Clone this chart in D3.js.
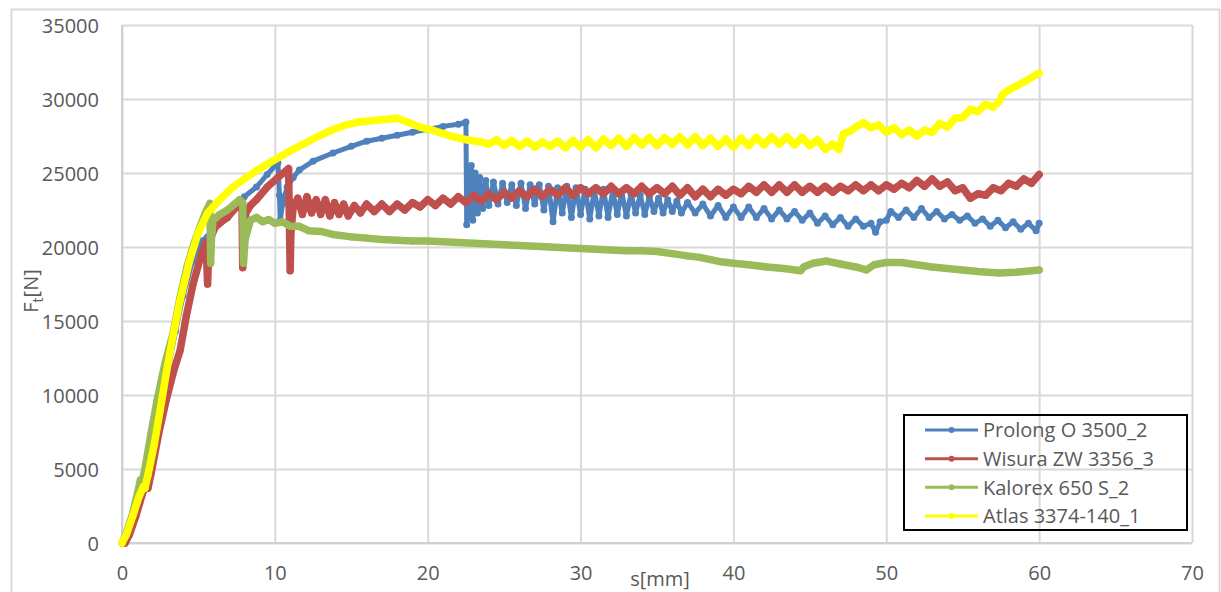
<!DOCTYPE html>
<html>
<head>
<meta charset="utf-8">
<script src="https://cdn.jsdelivr.net/npm/d3@7"></script>
<style>
  body { margin: 0; background: #fff; }
  svg { display: block; }
</style>
</head>
<body>
<div id="chart"></div>
<script>
// tick labels
const xTicks = [0, 10, 20, 30, 40, 50, 60, 70];
const yTicks = [0, 5000, 10000, 15000, 20000, 25000, 30000, 35000];

// series names and colours
const seriesNames = ["Prolong O 3500_2", "Wisura ZW 3356_3", "Kalorex 650 S_2", "Atlas 3374-140_1"];
const seriesColors = ["#4F81BD", "#C0504D", "#9BBB59", "#FFFF00"];

// [s mm, Ft N]
const prolong = [
  [0,0],[0.4,900],[0.8,2200],[1.2,3400],[1.4,3700],[1.6,3700],[1.8,4800],[2.2,6900],[2.6,9200],[3.0,11600],
  [3.5,14300],[4.0,16700],[4.6,19000],[5.2,20400],[5.6,20700],[6.1,21600],[6.7,22200],[7.3,22700],[8.0,23400],
  [8.8,24050],[9.5,24900],[10.2,25700],[10.3,23500],[10.35,21800],[10.5,22900],[10.8,24050],[11.2,24700],
  [11.6,25200],[12.5,25800],[13.8,26350],[15.0,26800],[16.0,27150],[17.0,27350],[18.0,27550],[19.0,27750],
  [20.0,27950],[21.0,28150],[22.0,28300],[22.5,28450],
  [22.55,21500],[22.65,24800],[22.75,22000],[22.85,25500],[22.95,21800],[23.1,25000],[23.25,22300],[23.4,24700],
  [23.6,22600],[23.8,24500],[24.0,22800],[24.3,24400],[24.6,22900],[24.9,24300],[25.2,23000],[25.5,24200],
  [25.8,22800],[26.1,24300],[26.4,22600],[26.7,24200],[27.0,22900],[27.3,24200],[27.6,22500],[27.9,24100],
  [28.2,21700],[28.5,24000],[28.8,22300],[29.1,24100],[29.4,22000],[29.7,24000],[30.0,22200],[30.3,23900],
  [30.6,21900],[30.9,23800],[31.2,22100],[31.5,23900],[31.8,22000],[32.1,23800],[32.4,22200],[32.7,23700],
  [33.0,22100],[33.3,23600],[33.6,22300],[33.9,23500],[34.2,22200],[34.5,23400],[34.8,22400],[35.1,23300],
  [35.4,22300],[35.7,23200],[36.0,22400],[36.3,23100],[36.6,22300],[37.0,23000],[37.5,22300],[38.0,22900],
  [38.5,22100],[39.0,22800],[39.5,22000],[40.0,22700],[40.5,22000],[41.0,22700],[41.5,22000],[42.0,22600],
  [42.5,21900],[43.0,22500],[43.5,21900],[44.0,22400],[44.5,21800],[45.0,22300],[45.5,21600],[46.0,22100],
  [46.5,21500],[47.0,22000],[47.5,21400],[48.0,21900],[48.5,21400],[49.0,21600],[49.3,21000],[49.6,21700],
  [50.0,21800],[50.3,22400],[50.8,22000],[51.3,22500],[51.8,22000],[52.3,22600],[52.8,22000],[53.3,22400],
  [53.8,21900],[54.3,22200],[54.8,21800],[55.3,22100],[55.8,21600],[56.3,21900],[56.8,21400],[57.3,21800],
  [57.8,21300],[58.3,21700],[58.8,21200],[59.3,21600],[59.8,21100],[60.0,21600]
];

const wisura = [
  [0.2,0],[0.5,600],[0.9,1800],[1.3,3200],[1.5,3800],[1.7,3700],[1.9,4700],[2.4,7400],[2.9,9700],[3.4,11700],
  [3.8,13000],[4.2,15300],[4.65,17500],[5.0,18800],[5.3,19800],[5.5,20300],[5.6,17500],[5.65,19000],[5.75,20500],
  [6.1,21350],[6.5,21700],[6.9,22000],[7.3,22500],[7.7,22950],[7.85,23100],[7.9,18600],[7.95,20000],[8.1,22300],
  [8.4,22800],[8.8,23200],[9.5,24050],[10.2,24700],[10.9,25300],[11.0,18400],[11.05,21000],[11.2,22700],
  [11.5,23300],[11.8,22200],[12.1,23400],[12.4,22300],[12.7,23200],[13.0,22200],[13.3,23200],[13.6,22100],
  [13.9,23000],[14.2,22200],[14.5,22900],[14.8,22100],[15.2,22800],[15.6,22300],[16.0,22900],[16.5,22400],
  [17.0,22900],[17.5,22400],[18.0,22900],[18.5,22500],[19.0,23000],[19.5,22700],[20.0,23200],[20.5,22800],
  [21.0,23300],[21.5,22900],[22.0,23400],[22.5,23000],[23.0,23500],[23.5,23100],[24.0,23600],[24.5,23200],
  [25.0,23700],[25.5,23300],[26.0,23800],[26.5,23400],[27.0,23900],[27.5,23400],[28.0,23900],[28.5,23500],
  [29.0,24000],[29.5,23500],[30.0,24000],[30.5,23600],[31.0,24000],[31.5,23600],[32.0,24100],[32.5,23600],
  [33.0,24000],[33.5,23600],[34.0,24100],[34.5,23600],[35.0,24000],[35.5,23600],[36.0,24100],[36.5,23500],
  [37.0,24000],[37.5,23400],[38.0,23900],[38.5,23400],[39.0,23900],[39.5,23500],[40.0,23900],[40.5,23600],
  [41.0,24100],[41.5,23700],[42.0,24200],[42.5,23700],[43.0,24200],[43.5,23700],[44.0,24200],[44.5,23700],
  [45.0,24100],[45.5,23700],[46.0,24100],[46.5,23700],[47.0,24100],[47.5,23800],[48.0,24200],[48.5,23800],
  [49.0,24200],[49.5,23800],[50.0,24200],[50.5,23900],[51.0,24300],[51.5,24000],[52.0,24500],[52.5,24100],
  [53.0,24600],[53.5,24100],[54.0,24400],[54.5,23800],[55.0,24000],[55.5,23300],[56.0,23600],[56.5,23500],
  [57.0,24000],[57.5,23800],[58.0,24300],[58.5,24100],[59.0,24600],[59.5,24300],[60.0,24900]
];

const kalorex = [
  [0,0],[0.3,700],[0.7,2000],[1.0,3300],[1.2,4250],[1.3,4100],[1.5,5000],[1.9,7400],[2.3,9660],[2.8,12100],
  [3.35,14200],[3.8,16600],[4.25,18650],[4.7,20200],[5.1,21350],[5.45,22300],[5.75,22950],[5.8,18900],
  [5.85,20500],[5.95,21800],[6.4,22200],[6.9,22500],[7.3,22850],[7.7,23200],[7.9,23000],[7.95,18900],
  [8.05,20500],[8.4,21800],[8.8,22000],[9.2,21700],[9.6,21850],[10.0,21600],[10.5,21700],[11.0,21400],
  [11.6,21400],[12.2,21100],[13.0,21050],[13.8,20850],[14.9,20700],[16,20600],[17,20500],[18,20450],
  [19,20400],[20,20400],[21,20350],[22,20300],[23,20250],[24,20200],[25,20150],[26,20100],[27,20050],
  [28,20000],[29,19950],[30,19900],[31,19850],[32,19800],[33,19750],[34,19750],[35,19700],[36,19550],
  [37,19400],[37.8,19300],[38.5,19150],[39.2,19000],[40,18900],[41,18800],[42.2,18650],[43.3,18550],
  [44.4,18400],[44.6,18650],[45.2,18900],[46.1,19050],[47,18850],[48,18650],[48.7,18450],[49.2,18800],
  [50,18950],[51,18950],[52,18800],[53,18650],[54,18550],[55,18450],[56,18350],[57.4,18250],[58.5,18300],
  [60,18450]
];

const atlas = [
  [0,0],[0.3,600],[0.7,1800],[1.1,3100],[1.4,3800],[1.5,3700],[1.7,4600],[2.1,6600],[2.5,9000],[2.9,11500],
  [3.3,13800],[3.8,16400],[4.4,19000],[5.0,21000],[5.6,22300],[6.4,23200],[7.2,24000],[8.0,24600],[9.0,25300],
  [10.0,25900],[11.2,26600],[12.5,27300],[13.5,27800],[14.5,28200],[15.5,28450],[16.5,28550],[17.5,28650],
  [18.0,28700],[18.8,28400],[19.5,28100],[20.3,27900],[21.5,27500],[22.6,27230],[23.5,27100],
  [24.0,26950],[24.5,27250],[25.0,26850],[25.5,27200],[26.0,26800],[26.5,27150],[27.0,26750],[27.5,27100],
  [28.0,26800],[28.5,27150],[29.0,26700],[29.5,27200],[30.0,26750],[30.5,27250],[31.0,26700],[31.5,27300],
  [32.0,26850],[32.5,27350],[33.0,26800],[33.5,27400],[34.0,26900],[34.5,27400],[35.0,26850],[35.5,27400],
  [36.0,26950],[36.5,27450],[37.0,26900],[37.5,27450],[38.0,26850],[38.5,27350],[39.0,26800],[39.5,27300],
  [40.0,26750],[40.5,27350],[41.0,26850],[41.5,27400],[42.0,26900],[42.5,27450],[43.0,26950],[43.5,27450],
  [44.0,26900],[44.5,27400],[45.0,26850],[45.5,27250],[46.0,26600],[46.5,26950],[46.9,26600],[47.2,27650],
  [47.6,27800],[48.0,28100],[48.5,28400],[49.0,28050],[49.5,28250],[50.0,27750],[50.5,28050],[51.0,27600],
  [51.5,27900],[52.0,27500],[52.5,27900],[53.0,27750],[53.5,28350],[54.0,28100],[54.5,28700],[55.0,28750],
  [55.5,29300],[56.0,29150],[56.5,29650],[57.0,29450],[57.4,29850],[57.6,30300],[58.0,30600],[59.0,31150],
  [60.0,31750]
];

const seriesData = [prolong, wisura, kalorex, atlas];
// blue is drawn a bit thinner so its oscillation keeps its open look
const strokeWidths = [5, 7.5, 7.5, 7.5];

const width = 1221, height = 592;
const margin = { left: 122, right: 29, top: 25, bottom: 49 };
const font = "'Open Sans', 'Liberation Sans', sans-serif";
const textColor = "#595959";
const gridColor = "#D9D9D9";

const svg = d3.select("#chart").append("svg")
  .attr("width", width)
  .attr("height", height)
  .attr("font-family", font);

// chart area border
svg.append("rect")
  .attr("x", 11.5).attr("y", 9.5)
  .attr("width", 1208).attr("height", 600)
  .attr("fill", "#fff")
  .attr("stroke", gridColor)
  .attr("stroke-width", 2);

const x = d3.scaleLinear().domain([0, 70]).range([margin.left, width - margin.right]);
const y = d3.scaleLinear().domain([0, 35000]).range([height - margin.bottom, margin.top]);

// grid + axes
const xAxis = d3.axisBottom(x)
  .tickValues(xTicks)
  .tickFormat(d3.format("d"))
  .tickSize(-(y(0) - y(35000)))
  .tickPadding(23);

const yAxis = d3.axisLeft(y)
  .tickValues(yTicks)
  .tickFormat(d3.format("d"))
  .tickSize(-(x(70) - x(0)))
  .tickPadding(23);

const gx = svg.append("g")
  .attr("transform", `translate(0,${y(0)})`)
  .call(xAxis);
const gy = svg.append("g")
  .attr("transform", `translate(${x(0)},0)`)
  .call(yAxis);

[gx, gy].forEach(g => {
  g.select(".domain").remove();
  g.selectAll(".tick line").attr("stroke", gridColor).attr("stroke-width", 2);
  g.selectAll(".tick text")
    .attr("fill", textColor)
    .attr("font-size", 20)
    .attr("font-family", font);
});
gy.selectAll(".tick text").attr("dy", "0.36em");

// axis lines
svg.append("line")
  .attr("x1", x(0)).attr("x2", x(70))
  .attr("y1", y(0)).attr("y2", y(0))
  .attr("stroke", "#D0D0D0").attr("stroke-width", 2);
svg.append("line")
  .attr("x1", x(0)).attr("x2", x(0))
  .attr("y1", y(0)).attr("y2", y(35000))
  .attr("stroke", "#D0D0D0").attr("stroke-width", 2);

// series: thick line + dense round markers, like the exported sheet chart
const line = d3.line().x(d => x(d[0])).y(d => y(d[1]));

seriesData.forEach((data, i) => {
  const g = svg.append("g").attr("class", "series");
  g.append("path")
    .datum(data)
    .attr("d", line)
    .attr("fill", "none")
    .attr("stroke", seriesColors[i])
    .attr("stroke-width", strokeWidths[i])
    .attr("stroke-linejoin", "round")
    .attr("stroke-linecap", "round");
  g.selectAll("circle")
    .data(data)
    .join("circle")
    .attr("cx", d => x(d[0]))
    .attr("cy", d => y(d[1]))
    .attr("r", 3.5)
    .attr("fill", seriesColors[i]);
});

// axis titles
svg.append("text")
  .attr("x", 660).attr("y", 586)
  .attr("text-anchor", "middle")
  .attr("font-size", 20)
  .attr("fill", textColor)
  .text("s[mm]");

const yTitle = svg.append("text")
  .attr("transform", "translate(38,291) rotate(-90)")
  .attr("text-anchor", "middle")
  .attr("font-size", 20)
  .attr("fill", textColor);
yTitle.append("tspan").text("F");
yTitle.append("tspan").attr("font-size", 14).attr("dy", 5).text("t");
yTitle.append("tspan").attr("dy", -5).text("[N]");

// legend
const legend = svg.append("g");
legend.append("rect")
  .attr("x", 904).attr("y", 415)
  .attr("width", 283).attr("height", 115)
  .attr("fill", "none")
  .attr("stroke", "#000")
  .attr("stroke-width", 2);

const rowY = d3.scalePoint().domain(seriesNames).range([430, 516]);
const rows = legend.selectAll("g.row")
  .data(seriesNames)
  .join("g")
  .attr("class", "row")
  .attr("transform", d => `translate(0,${rowY(d)})`);
rows.append("line")
  .attr("x1", 925).attr("x2", 978)
  .attr("stroke", (d, i) => seriesColors[i])
  .attr("stroke-width", 3);
rows.append("circle")
  .attr("cx", 951.5).attr("r", 3)
  .attr("fill", (d, i) => seriesColors[i]);
rows.append("text")
  .attr("x", 983).attr("dy", "0.36em")
  .attr("font-size", 20)
  .attr("fill", textColor)
  .text(d => d);
</script>
</body>
</html>
